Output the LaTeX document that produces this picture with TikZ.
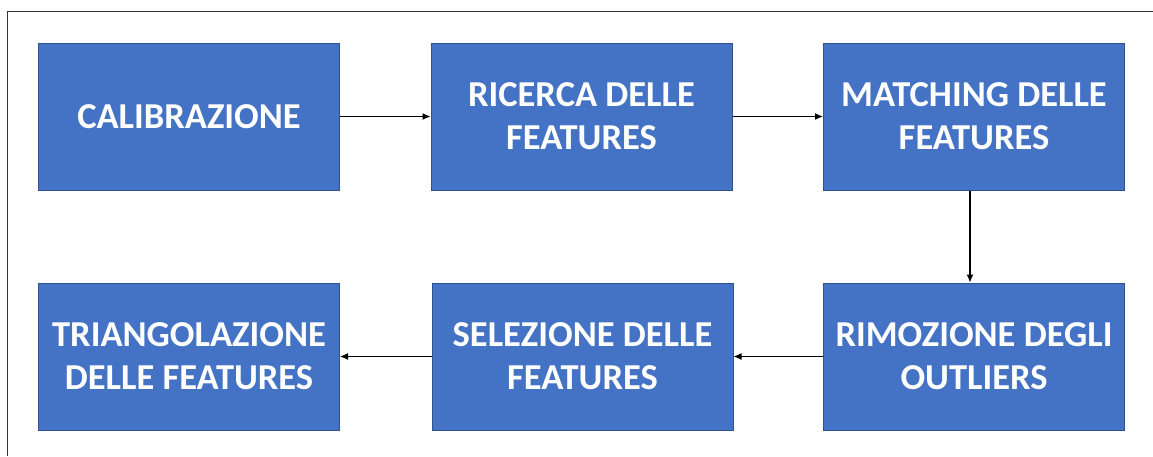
\documentclass[tikz,border=0pt]{standalone}
\usepackage{fontspec}
\setmainfont{Carlito}
\usetikzlibrary{arrows.meta}
\definecolor{boxfill}{HTML}{4472C4}
\definecolor{boxedge}{HTML}{2F528F}
\begin{document}
\begin{tikzpicture}[x=1pt,y=-1pt,
  stepbox/.style={draw=boxedge,line width=1pt,fill=boxfill,
    minimum width=301pt,minimum height=147pt,inner sep=0pt,
    text=white,align=center,font=\fontsize{36.5}{43}\selectfont\bfseries},
  flow/.style={-{Latex[length=8pt,width=7pt]},line width=1.1pt,black}]
\useasboundingbox (0,0) rectangle (1153,456);
% partial frame: top and left edges
\draw[line width=1.2pt,black!80] (1153,11.5) -- (7.5,11.5) -- (7.5,456);
% first row
\node[stepbox] (cal) at (189,116.5) {CALIBRAZIONE};
\node[stepbox] (ric) at (581.5,116.5) {RICERCA DELLE\\FEATURES};
\node[stepbox] (mat) at (974,116.5) {MATCHING DELLE\\FEATURES};
% second row
\node[stepbox] (tri) at (189,356.5) {TRIANGOLAZIONE\\DELLE FEATURES};
\node[stepbox] (sel) at (582.5,356.5) {SELEZIONE DELLE\\FEATURES};
\node[stepbox] (rim) at (974,356.5) {RIMOZIONE DEGLI\\OUTLIERS};
% connectors
\draw[flow] (cal.east) -- (ric.west);
\draw[flow] (ric.east) -- (mat.west);
\draw[flow] ([xshift=-4pt]mat.south) -- ([xshift=-4pt]rim.north);
\draw[flow] (rim.west) -- (sel.east);
\draw[flow] (sel.west) -- (tri.east);
\end{tikzpicture}
\end{document}
